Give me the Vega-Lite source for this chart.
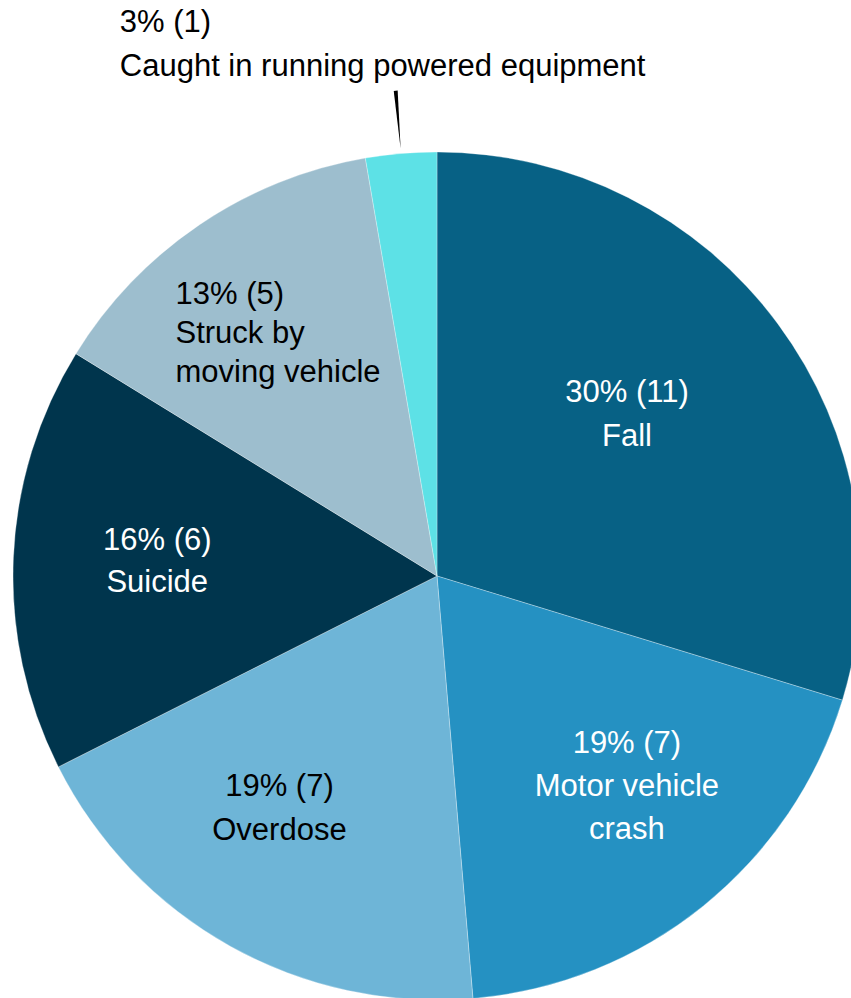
{
  "$schema": "https://vega.github.io/schema/vega-lite/v6.json",
  "width": 828,
  "height": 844,
  "autosize": {"type": "none"},
  "padding": {"left": 23, "top": 154, "right": 0, "bottom": 0},
  "background": "white",
  "config": {"view": {"stroke": null}},
  "data": {
    "values": [
      {"cause": "Fall", "count": 11, "rank": 1, "label": "30% (11)\nFall"},
      {"cause": "Motor vehicle crash", "count": 7, "rank": 2, "label": "19% (7)\nMotor vehicle\ncrash"},
      {"cause": "Overdose", "count": 7, "rank": 3, "label": "19% (7)\nOverdose"},
      {"cause": "Suicide", "count": 6, "rank": 4, "label": "16% (6)\nSuicide"},
      {"cause": "Struck by moving vehicle", "count": 5, "rank": 5, "label": "13% (5)\nStruck by\nmoving vehicle"},
      {"cause": "Caught in running powered equipment", "count": 1, "rank": 6, "label": "3% (1)\nCaught in running powered equipment"}
    ]
  },
  "encoding": {
    "theta": {"field": "count", "type": "quantitative", "stack": true},
    "order": {"field": "rank", "type": "quantitative"}
  },
  "layer": [
    {
      "mark": {"type": "arc", "radius": 424, "stroke": "white", "strokeWidth": 0.3},
      "encoding": {
        "color": {
          "field": "cause",
          "type": "nominal",
          "legend": null,
          "scale": {
            "domain": ["Fall", "Motor vehicle crash", "Overdose", "Suicide", "Struck by moving vehicle", "Caught in running powered equipment"],
            "range": ["#076185", "#2591C2", "#6EB5D7", "#00354D", "#9DBECE", "#5DE1E6"]
          }
        }
      }
    },
    {
      "mark": {"type": "arc", "radius": 487, "radius2": 429, "padAngle": 0.1213, "color": "black", "strokeWidth": 0},
      "encoding": {
        "opacity": {
          "condition": {"test": "datum.cause === 'Caught in running powered equipment'", "value": 1},
          "value": 0
        }
      }
    },
    {
      "mark": {"type": "text", "radius": 255, "dx": -15, "dy": -31, "fontSize": 31, "font": "Liberation Sans", "lineBreak": "\n", "lineHeight": 44, "align": "center", "baseline": "middle", "color": "white"},
      "encoding": {
        "text": {"condition": {"test": "datum.cause === 'Fall'", "field": "label"}, "value": ""}
      }
    },
    {
      "mark": {"type": "text", "radius": 280, "dx": 14, "dy": -50, "fontSize": 31, "font": "Liberation Sans", "lineBreak": "\n", "lineHeight": 43, "align": "center", "baseline": "middle", "color": "white"},
      "encoding": {
        "text": {"condition": {"test": "datum.cause === 'Motor vehicle crash'", "field": "label"}, "value": ""}
      }
    },
    {
      "mark": {"type": "text", "radius": 280, "dx": -21, "dy": -33, "fontSize": 31, "font": "Liberation Sans", "lineBreak": "\n", "lineHeight": 44, "align": "center", "baseline": "middle", "color": "black"},
      "encoding": {
        "text": {"condition": {"test": "datum.cause === 'Overdose'", "field": "label"}, "value": ""}
      }
    },
    {
      "mark": {"type": "text", "radius": 280, "dy": -23, "fontSize": 31, "font": "Liberation Sans", "lineBreak": "\n", "lineHeight": 42, "align": "center", "baseline": "middle", "color": "white"},
      "encoding": {
        "text": {"condition": {"test": "datum.cause === 'Suicide'", "field": "label"}, "value": ""}
      }
    },
    {
      "mark": {"type": "text", "radius": 292, "dx": -98, "dy": -39, "fontSize": 31, "font": "Liberation Sans", "lineBreak": "\n", "lineHeight": 39, "align": "left", "baseline": "middle", "color": "black"},
      "encoding": {
        "text": {"condition": {"test": "datum.cause === 'Struck by moving vehicle'", "field": "label"}, "value": ""}
      }
    },
    {
      "mark": {"type": "text", "radius": 533, "dx": -272, "dy": -22, "fontSize": 31, "font": "Liberation Sans", "lineBreak": "\n", "lineHeight": 44, "align": "left", "baseline": "middle", "color": "black"},
      "encoding": {
        "text": {"condition": {"test": "datum.cause === 'Caught in running powered equipment'", "field": "label"}, "value": ""}
      }
    }
  ]
}
